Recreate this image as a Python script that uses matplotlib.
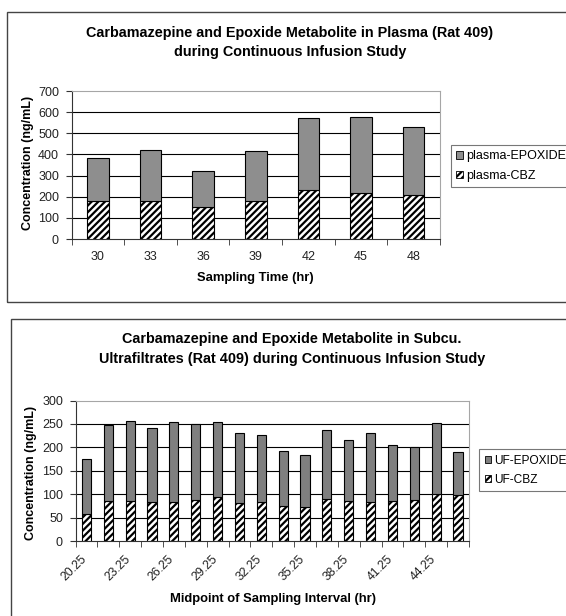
import numpy as np
import matplotlib
matplotlib.use("Agg")
import matplotlib.pyplot as plt
import matplotlib.transforms as mtransforms
from matplotlib.patches import Rectangle, Patch

plt.rcParams['font.family'] = ['Liberation Sans', 'DejaVu Sans']
plt.rcParams['hatch.linewidth'] = 1.6

# plasma samples (ng/mL)
plasma_times = ['30', '33', '36', '39', '42', '45', '48']
plasma_cbz = [178, 178, 150, 178, 231, 216, 209]
plasma_epoxide = [204, 243, 173, 238, 342, 359, 322]

# subcutaneous ultrafiltrate samples (ng/mL)
uf_midpoints = ['20.25', '21.75', '23.25', '24.75', '26.25', '27.75', '29.25', '30.75', '32.25',
                '33.75', '35.25', '36.75', '38.25', '39.75', '41.25', '42.75', '44.25', '45.75']
uf_cbz = [57, 85, 85, 83, 83, 87, 93, 81, 83, 74, 72, 89, 85, 83, 85, 87, 100, 98]
uf_epoxide = [119, 162, 172, 159, 172, 163, 162, 149, 144, 119, 111, 149, 130, 147, 121, 113, 151, 92]

W, H = 566, 616
fig = plt.figure(figsize=(W / 100, H / 100), dpi=100)


def fx(x):
    return x / W


def fy(y):
    return 1 - y / H


def axes_px(left, top, right, bottom):
    return fig.add_axes([fx(left), fy(bottom), (right - left) / W, (bottom - top) / H])


def stacked(ax, labels, cbz, epox, ymax, step, gray, width):
    x = np.arange(len(labels))
    ax.bar(x, cbz, width, color='white', edgecolor='black', hatch='/////', linewidth=0.8, zorder=3)
    ax.bar(x, epox, width, bottom=cbz, color=gray, edgecolor='black', linewidth=0.8, zorder=3)
    ax.set_xlim(-0.5, len(labels) - 0.5)
    ax.set_ylim(0, ymax)
    ax.set_yticks(np.arange(0, ymax + 1, step))
    for v in np.arange(step, ymax, step):
        ax.axhline(v, color='black', linewidth=0.8, zorder=1)
    # tick marks between categories, labels at centres
    ax.set_xticks(x)
    ax.set_xticks(np.arange(-0.5, len(labels)), minor=True)
    ax.tick_params(axis='x', which='major', length=0)
    ax.tick_params(axis='x', which='minor', length=4, direction='out', color='#333333')
    ax.tick_params(axis='y', length=4, direction='out', color='#333333', labelsize=9,
                   labelcolor='#222222', pad=5)
    for s in ['top', 'right']:
        ax.spines[s].set_color('#a6a6a6')
    for s in ['left', 'bottom']:
        ax.spines[s].set_color('#333333')
    for s in ax.spines.values():
        s.set_linewidth(0.8)
    return x


def add_legend(labels, gray, left, top, size):
    leg = fig.legend(handles=[Patch(facecolor=gray, edgecolor='black', linewidth=0.6),
                              Patch(facecolor='white', edgecolor='black', hatch='/////', linewidth=0.6)],
                     labels=labels, loc='upper left', bbox_to_anchor=(fx(left), fy(top)),
                     fontsize=size, frameon=True, fancybox=False,
                     handlelength=0.55, handleheight=0.55, handletextpad=0.25, borderpad=0.45,
                     labelspacing=0.6, borderaxespad=0)
    leg.get_frame().set_edgecolor('#555555')
    leg.get_frame().set_linewidth(0.8)
    return leg


# outer chart borders
fig.patches.append(Rectangle((fx(6.5), fy(302)), 1.2, fy(12.3) - fy(302), transform=fig.transFigure,
                             fill=False, edgecolor='#444444', linewidth=1.0))
fig.patches.append(Rectangle((fx(10.7), -0.2), 1.2, fy(319) + 0.2, transform=fig.transFigure,
                             fill=False, edgecolor='#444444', linewidth=1.0))

# top chart: plasma
ax1 = axes_px(71.5, 91, 440, 239)
stacked(ax1, plasma_times, plasma_cbz, plasma_epoxide, 700, 100, '#8e8e8e', 0.41)
ax1.set_xticklabels(plasma_times, fontsize=9, color='#222222')
ax1.tick_params(axis='x', which='major', pad=9)

fig.text(fx(290), fy(33), 'Carbamazepine and Epoxide Metabolite in Plasma (Rat 409)',
         ha='center', va='center', fontsize=10.4, fontweight='bold')
fig.text(fx(290), fy(52), 'during Continuous Infusion Study',
         ha='center', va='center', fontsize=10.4, fontweight='bold')
fig.text(fx(255.6), fy(278), 'Sampling Time (hr)', ha='center', va='center',
         fontsize=9.4, fontweight='bold')
fig.text(fx(28), fy(163), 'Concentration (ng/mL)', ha='center', va='center',
         rotation=90, fontsize=9, fontweight='bold')

add_legend(['plasma-EPOXIDE', 'plasma-CBZ'], '#8e8e8e', 450.5, 144.7, 9)

# bottom chart: ultrafiltrates
ax2 = axes_px(75.5, 400.5, 469, 541)
stacked(ax2, uf_midpoints, uf_cbz, uf_epoxide, 300, 50, '#7f7f7f', 0.42)
ax2.set_xticklabels([lab if i % 2 == 0 else '' for i, lab in enumerate(uf_midpoints)],
                    fontsize=8.8, color='#222222', rotation=45, ha='right',
                    rotation_mode='anchor')
ax2.tick_params(axis='x', which='major', pad=9)
shift = mtransforms.ScaledTranslation(-6 / 100, 0, fig.dpi_scale_trans)
for lab in ax2.get_xticklabels():
    lab.set_transform(lab.get_transform() + shift)

fig.text(fx(292), fy(339), 'Carbamazepine and Epoxide Metabolite in Subcu.',
         ha='center', va='center', fontsize=10.4, fontweight='bold')
fig.text(fx(292), fy(359), 'Ultrafiltrates (Rat 409) during Continuous Infusion Study',
         ha='center', va='center', fontsize=10.4, fontweight='bold')
fig.text(fx(272.6), fy(599), 'Midpoint of Sampling Interval (hr)', ha='center', va='center',
         fontsize=9.4, fontweight='bold')
fig.text(fx(30.7), fy(473), 'Concentration (ng/mL)', ha='center', va='center',
         rotation=90, fontsize=9, fontweight='bold')

add_legend(['UF-EPOXIDE', 'UF-CBZ'], '#7f7f7f', 479.3, 449.3, 8.6)

fig.savefig('out.png', dpi=100)
